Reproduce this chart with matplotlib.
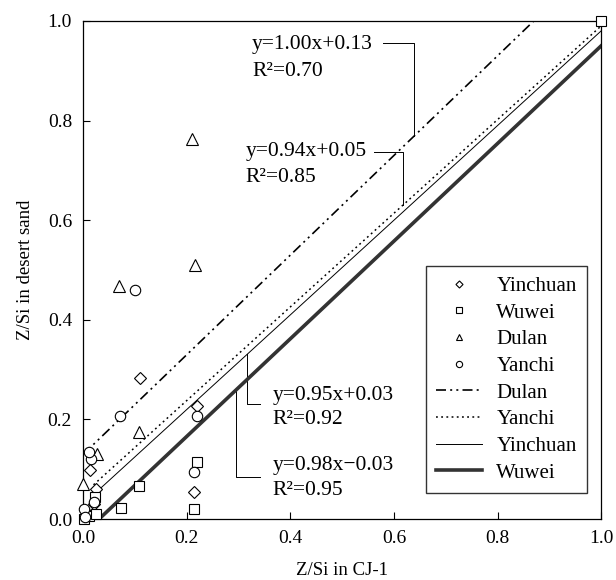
import numpy as np
import matplotlib.pyplot as plt

plt.rcParams['font.family'] = ['Liberation Serif', 'DejaVu Serif']

# scatter data
yinchuan_x = [0.005, 0.014, 0.02, 0.025, 0.109, 0.219, 0.213]
yinchuan_y = [0.015, 0.098, 0.03, 0.06, 0.284, 0.227, 0.054]
wuwei_x = [0.002, 0.012, 0.025, 0.022, 0.073, 0.107, 0.213, 0.219, 1.0]
wuwei_y = [0.0, 0.006, 0.01, 0.045, 0.023, 0.066, 0.02, 0.115, 1.0]
dulan_x = [0.0, 0.027, 0.07, 0.107, 0.211, 0.215]
dulan_y = [0.071, 0.131, 0.467, 0.175, 0.763, 0.51]
yanchi_x = [0.002, 0.004, 0.015, 0.012, 0.02, 0.072, 0.1, 0.219, 0.213]
yanchi_y = [0.02, 0.004, 0.12, 0.135, 0.035, 0.207, 0.459, 0.207, 0.095]

# fitted lines: slope, intercept, r2, x start
fits = {
    "Dulan": (1.00, 0.13, 0.70, 0.0),
    "Yanchi": (0.94, 0.05, 0.85, 0.02),
    "Yinchuan": (0.95, 0.03, 0.92, 0.02),
    "Wuwei": (0.98, -0.03, 0.95, 0.031),
}

fig = plt.figure(figsize=(6.16, 5.80), dpi=100)
ax = fig.add_axes([0.135, 0.105, 0.841, 0.859])

mk = dict(linestyle="none", mfc="white", mec="black", mew=0.8, clip_on=False, zorder=3)
ax.plot(yinchuan_x, yinchuan_y, marker="D", ms=6, label="Yinchuan", **mk)
ax.plot(wuwei_x, wuwei_y, marker="s", ms=7, label="Wuwei", **mk)
ax.plot(dulan_x, dulan_y, marker="^", ms=8, label="Dulan", **mk)
ax.plot(yanchi_x, yanchi_y, marker="o", ms=7.5, label="Yanchi", **mk)

styles = {
    "Dulan": dict(color="black", lw=1.2, dashes=(6, 2.5, 1.2, 2.5, 1.2, 2.5)),
    "Yanchi": dict(color="black", lw=1.1, dashes=(1.2, 2.2)),
    "Yinchuan": dict(color="black", lw=0.7),
    "Wuwei": dict(color="#333333", lw=2.6),
}
for name in ["Dulan", "Yanchi", "Yinchuan", "Wuwei"]:
    a, b, r2, x0 = fits[name]
    xs = np.linspace(x0, 1.0, 50)
    ax.plot(xs, a * xs + b, label=name, zorder=2, **styles[name])

# equation labels with leader lines
def label(name, tx, ty1, ty2, hy, hx0, hx1):
    a, b, r2, _ = fits[name]
    sign = "+" if b >= 0 else "\u2212"
    ax.text(tx, ty1, f"y={a:.2f}x{sign}{abs(b):.2f}", fontsize=15.5, va="center", ha="left")
    ax.text(tx, ty2, f"R\u00b2={r2:.2f}", fontsize=15.5, va="center", ha="left")
    ax.plot([hx0, hx1, hx1], [hy, hy, a * hx1 + b], color="black", lw=0.7, zorder=1)

label("Dulan", 0.326, 0.952, 0.898, 0.956, 0.578, 0.639)
label("Yanchi", 0.313, 0.737, 0.685, 0.737, 0.562, 0.618)
label("Yinchuan", 0.365, 0.249, 0.199, 0.231, 0.342, 0.317)
label("Wuwei", 0.365, 0.108, 0.058, 0.084, 0.342, 0.295)

ax.set_xlim(0, 1)
ax.set_ylim(0, 1)
ticks = [0.0, 0.2, 0.4, 0.6, 0.8, 1.0]
ax.set_xticks(ticks)
ax.set_yticks(ticks)
ax.set_xticklabels([f"{t:.1f}" for t in ticks])
ax.set_yticklabels([f"{t:.1f}" for t in ticks])
ax.tick_params(direction="in", length=5, width=0.8, labelsize=14, pad=8)
for s in ax.spines.values():
    s.set_linewidth(0.9)

ax.set_xlabel("Z/Si in CJ-1", fontsize=13.5, labelpad=11)
ax.set_ylabel("Z/Si in desert sand", fontsize=13.5, labelpad=10)

leg = ax.legend(loc="lower right", bbox_to_anchor=(0.973, 0.052), fontsize=15,
                frameon=True, fancybox=False, edgecolor="black", markerscale=0.6,
                handlelength=2.2, labelspacing=0.34, borderpad=0.5, handletextpad=0.7,
                borderaxespad=0)
leg.get_frame().set_linewidth(1.0)

fig.savefig("out.png", dpi=100)
